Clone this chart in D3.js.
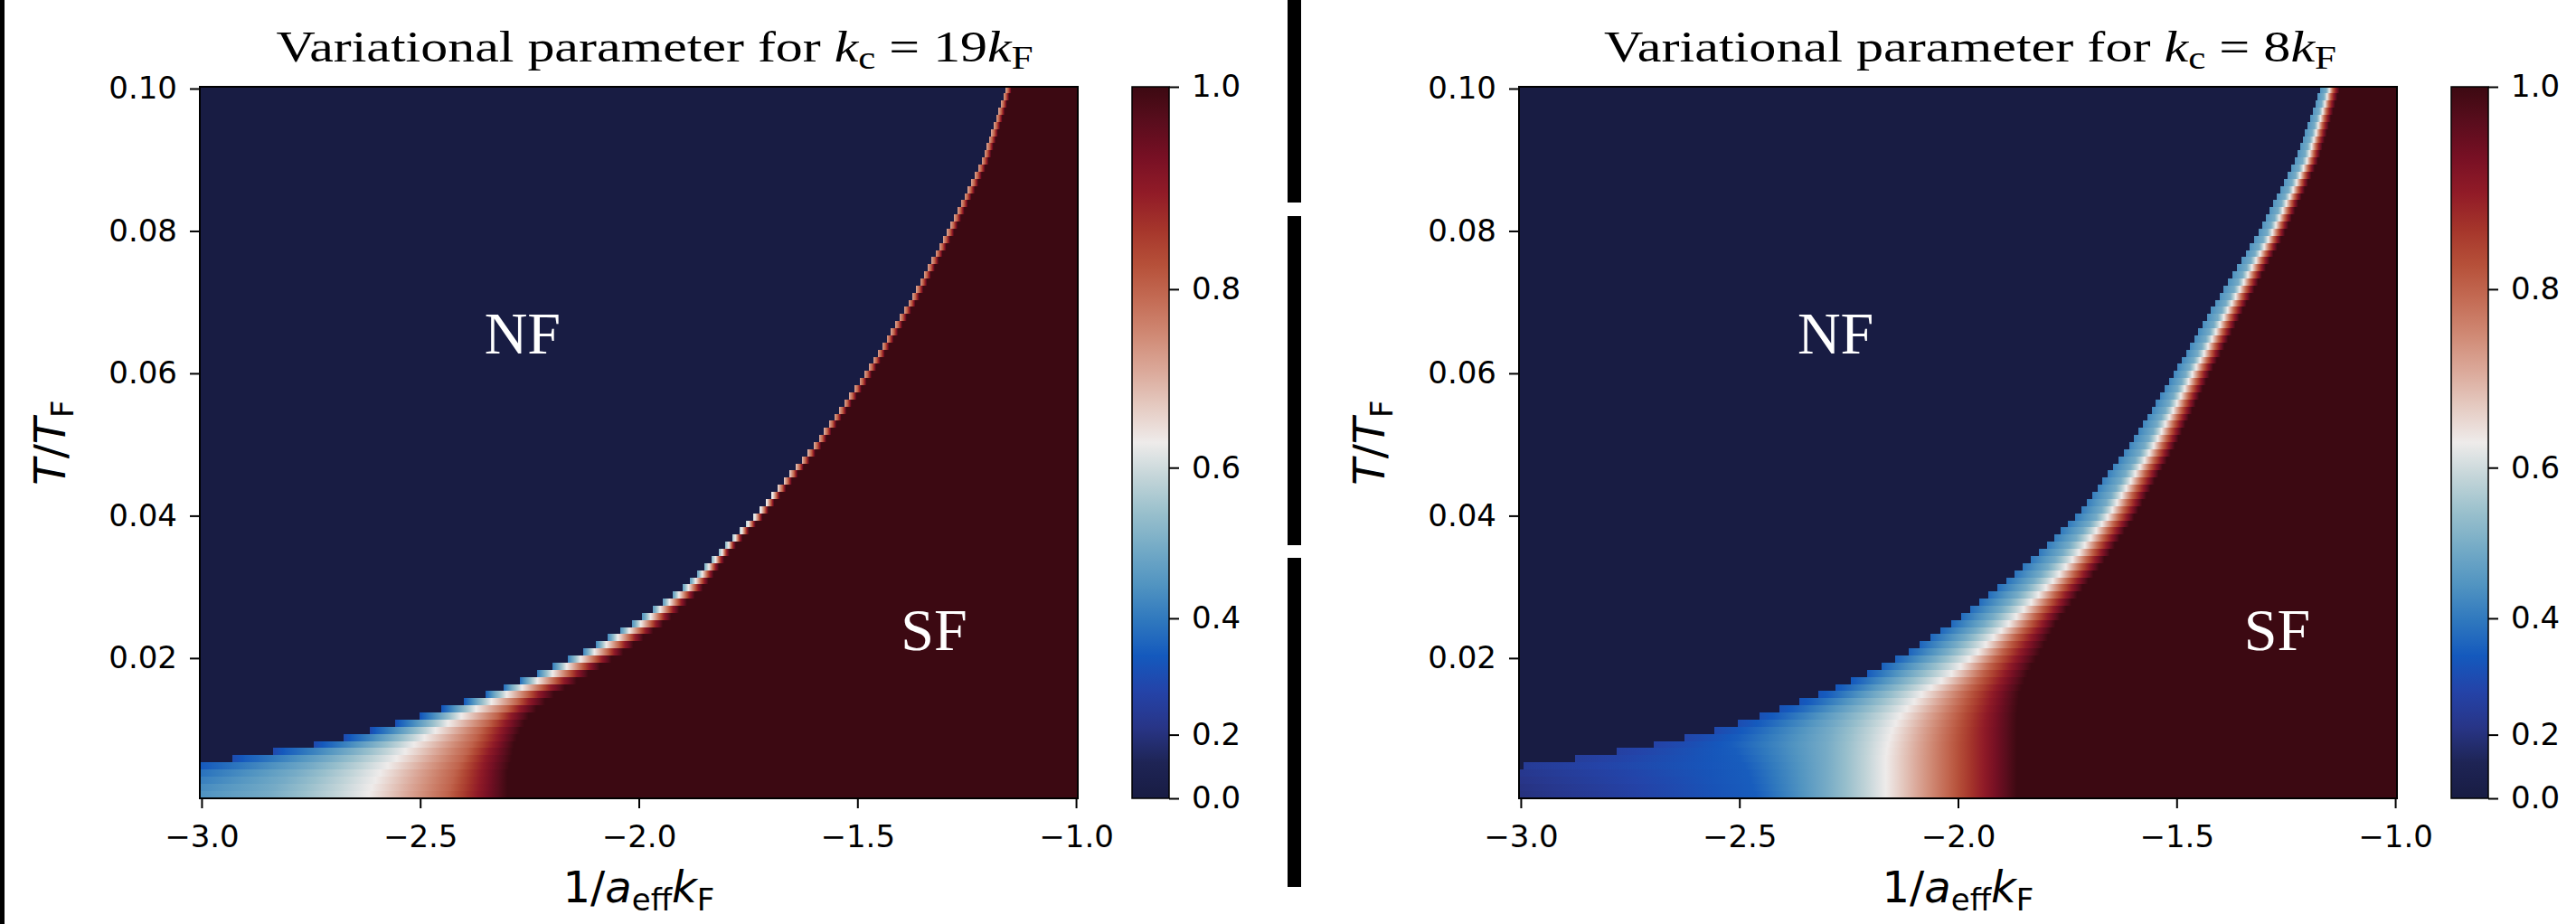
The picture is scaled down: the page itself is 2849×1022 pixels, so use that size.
<!DOCTYPE html>
<html>
<head>
<meta charset="utf-8">
<script src="https://cdn.jsdelivr.net/npm/d3@7"></script>
<style>
  body { margin: 0; background: #fff; }
  svg { display: block; }
  .tick text { font-family: "DejaVu Sans", sans-serif; font-size: 34px; fill: #000; }
  .tick line { stroke: #000; stroke-width: 2px; }
</style>
</head>
<body>
<svg id="chart" width="2849" height="1022"></svg>
<script>
// values: T/T_F knots, and for each knot the x position
// (1/a_eff k_F) where the parameter reaches a given level
const tKnots = [0.0003, 0.002, 0.004, 0.005, 0.006, 0.008, 0.010, 0.012, 0.015, 0.018, 0.021,
                0.025, 0.030, 0.035, 0.040, 0.050, 0.060, 0.070, 0.080, 0.090, 0.1003];
const levels = [0.35, 0.5, 0.63, 0.8, 0.9, 1.0];

// k_c = 19 k_F
const edgeX19 = [-3.004, -3.004, -3.004, -3.004, -2.91, -2.724, -2.602, -2.491, -2.34, -2.225, -2.12,
                 -2.01, -1.895, -1.814, -1.735, -1.597, -1.481, -1.381, -1.293, -1.214, -1.158];
const edgeV19 = [0.45, 0.43, 0.38, 0.33, 0.30, 0.30, 0.30, 0.32, 0.36, 0.40, 0.42,
                 0.45, 0.48, 0.52, 0.60, 0.70, 0.72, 0.72, 0.72, 0.72, 0.72];
const lev35_19 = [-3.2, -3.2, -3.2, -2.98, -2.88, -2.70, -2.59, -2.485, -2.34, -2.225, -2.12,
                  -2.01, -1.895, -1.814, -1.735, -1.597, -1.481, -1.381, -1.293, -1.214, -1.158];
const lev50_19 = [-2.85, -2.83, -2.78, -2.74, -2.70, -2.60, -2.52, -2.44, -2.32, -2.21, -2.11,
                  -2.003, -1.892, -1.814, -1.735, -1.597, -1.481, -1.381, -1.293, -1.214, -1.158];
const lev63_19 = [-2.62, -2.61, -2.59, -2.57, -2.55, -2.51, -2.46, -2.40, -2.295, -2.19, -2.095,
                  -1.99, -1.882, -1.806, -1.731, -1.597, -1.481, -1.381, -1.293, -1.214, -1.158];
const lev80_19 = [-2.44, -2.43, -2.42, -2.41, -2.40, -2.38, -2.36, -2.32, -2.25, -2.155, -2.065,
                  -1.968, -1.868, -1.800, -1.722, -1.589, -1.474, -1.374, -1.286, -1.207, -1.152];
const lev90_19 = [-2.37, -2.365, -2.36, -2.355, -2.35, -2.33, -2.315, -2.29, -2.225, -2.135, -2.05,
                  -1.956, -1.86, -1.796, -1.718, -1.584, -1.469, -1.369, -1.281, -1.202, -1.148];
const lev100_19 = [-2.30, -2.30, -2.30, -2.295, -2.29, -2.285, -2.27, -2.25, -2.19, -2.11, -2.03,
                   -1.94, -1.85, -1.790, -1.714, -1.580, -1.465, -1.365, -1.277, -1.198, -1.145];

// k_c = 8 k_F
const edgeX8 = [-3.004, -3.004, -3.004, -2.99, -2.847, -2.678, -2.544, -2.444, -2.31, -2.20, -2.107,
                -2.01, -1.905, -1.81, -1.728, -1.605, -1.505, -1.41, -1.31, -1.228, -1.168];
const edgeV8 = [0.20, 0.21, 0.23, 0.25, 0.26, 0.28, 0.30, 0.32, 0.33, 0.35, 0.36,
                0.37, 0.38, 0.40, 0.40, 0.42, 0.42, 0.44, 0.45, 0.45, 0.45];
const lev35_8 = [-2.46, -2.47, -2.48, -2.49, -2.50, -2.52, -2.48, -2.41, -2.29, -2.20, -2.107,
                 -2.01, -1.905, -1.81, -1.728, -1.605, -1.505, -1.41, -1.31, -1.228, -1.168];
const lev50_8 = [-2.30, -2.30, -2.30, -2.30, -2.30, -2.30, -2.29, -2.26, -2.18, -2.10, -2.02,
                 -1.935, -1.84, -1.757, -1.68, -1.57, -1.477, -1.385, -1.29, -1.21, -1.155];
const lev63_8 = [-2.165, -2.165, -2.165, -2.165, -2.165, -2.16, -2.15, -2.13, -2.08, -2.01, -1.95,
                 -1.88, -1.795, -1.72, -1.655, -1.55, -1.462, -1.372, -1.279, -1.20, -1.148];
const lev80_8 = [-2.02, -2.02, -2.02, -2.02, -2.02, -2.02, -2.015, -2.005, -1.98, -1.94, -1.895,
                 -1.835, -1.76, -1.69, -1.63, -1.53, -1.446, -1.358, -1.267, -1.19, -1.14];
const lev90_8 = [-1.94, -1.94, -1.94, -1.94, -1.94, -1.94, -1.94, -1.935, -1.92, -1.89, -1.855,
                 -1.805, -1.737, -1.67, -1.612, -1.516, -1.435, -1.348, -1.259, -1.183, -1.133];
const lev100_8 = [-1.865, -1.865, -1.865, -1.865, -1.865, -1.865, -1.865, -1.865, -1.86, -1.84, -1.81,
                  -1.775, -1.712, -1.65, -1.595, -1.502, -1.423, -1.338, -1.25, -1.175, -1.125];

const xTicks = [-3.0, -2.5, -2.0, -1.5, -1.0];
const yTicks = [0.02, 0.04, 0.06, 0.08, 0.10];
const cbTicks = [0.0, 0.2, 0.4, 0.6, 0.8, 1.0];
const kcValues = ["19", "8"];

// balance-like diverging map, sampled every 0.05
const balanceColors = ["#181c43", "#1e2455", "#283587", "#2443a8", "#1459bd", "#2f78be", "#5194c1",
  "#73aac6", "#98bfcc", "#c2d4d8", "#eeebea", "#e5cbc2", "#dba99a", "#d08a75", "#c46c55",
  "#b65039", "#a5352b", "#911b27", "#781024", "#5a0d1d", "#3c0912"];
const balance = d3.scaleLinear()
  .domain(balanceColors.map((c, i) => i / (balanceColors.length - 1)))
  .range(balanceColors);
const gamma = 1.5;
const cmap = v => balance(Math.pow(Math.max(0, Math.min(1, v)), gamma));

const svg = d3.select("#chart");
const defs = svg.append("defs");

// composite-figure bars
svg.append("rect").attr("x", 0).attr("y", 0).attr("width", 5).attr("height", 1022).attr("fill", "#000");
[[0, 224], [239, 603], [617, 981]].forEach(s => {
  svg.append("rect").attr("x", 1424).attr("y", s[0]).attr("width", 15).attr("height", s[1] - s[0]).attr("fill", "#000");
});

const plotTop = 96, plotBottom = 883, plotW = 971;

const panels = [
  { left: 221, kc: kcValues[0], titleX: 724, titleW: 837, nf: [-2.266, 0.0657], sf: [-1.325, 0.024],
    edgeX: edgeX19, edgeV: edgeV19, lev: [lev35_19, lev50_19, lev63_19, lev80_19, lev90_19, lev100_19] },
  { left: 1680, kc: kcValues[1], titleX: 2179, titleW: 810, nf: [-2.28, 0.0657], sf: [-1.27, 0.024],
    edgeX: edgeX8, edgeV: edgeV8, lev: [lev35_8, lev50_8, lev63_8, lev80_8, lev90_8, lev100_8] }
];

panels.forEach((p, pi) => {
  const x = d3.scaleLinear().domain([-3.004, -0.996]).range([p.left, p.left + plotW]);
  const y = d3.scaleLinear().domain([0.0003, 0.10025]).range([plotBottom, plotTop]);
  const along = arr => d3.scaleLinear().domain(tKnots).range(arr).clamp(true);
  const eX = along(p.edgeX), eV = along(p.edgeV);
  const lv = p.lev.map(along);

  const clipId = "clip" + pi;
  defs.append("clipPath").attr("id", clipId).append("rect")
    .attr("x", p.left).attr("y", plotTop).attr("width", plotW).attr("height", plotBottom - plotTop);

  const heat = svg.append("g").attr("clip-path", `url(#${clipId})`);
  const nRows = 100, rowH = (plotBottom - plotTop) / nRows;
  const gx1 = x(-3.3), gx2 = x(-0.9);
  const off = v => (x(v) - gx1) / (gx2 - gx1);

  for (let i = 0; i < nRows; i++) {
    const y0 = plotTop + i * rowH, y1 = y0 + rowH;
    const t = y.invert((y0 + y1) / 2);
    const e = eX(t), ev = eV(t);
    const stops = [[-3.3, 0], [e, 0], [e, ev]];
    let last = [e, ev];
    levels.forEach((L, k) => {
      const lx = lv[k](t);
      if (lx > last[0] && L > last[1]) {
        for (let j = 1; j < 6; j++) {
          const f = j / 6;
          stops.push([last[0] + f * (lx - last[0]), last[1] + f * (L - last[1])]);
        }
        stops.push([lx, L]);
        last = [lx, L];
      }
    });
    stops.push([-0.9, last[1]]);

    const gid = `row${pi}_${i}`;
    const grad = defs.append("linearGradient").attr("id", gid)
      .attr("gradientUnits", "userSpaceOnUse")
      .attr("x1", gx1).attr("x2", gx2).attr("y1", 0).attr("y2", 0);
    stops.forEach(s => grad.append("stop")
      .attr("offset", Math.max(0, Math.min(1, off(s[0]))))
      .attr("stop-color", cmap(s[1])));
    heat.append("rect")
      .attr("x", p.left).attr("width", plotW)
      .attr("y", Math.floor(y0)).attr("height", Math.ceil(y1) - Math.floor(y0) + 0.5)
      .attr("fill", `url(#${gid})`);
  }

  // frame
  svg.append("rect").attr("x", p.left).attr("y", plotTop).attr("width", plotW).attr("height", plotBottom - plotTop)
    .attr("fill", "none").attr("stroke", "#000").attr("stroke-width", 2);

  // axes
  const ax = svg.append("g").attr("transform", `translate(0,${plotBottom})`)
    .call(d3.axisBottom(x).tickValues(xTicks).tickFormat(d3.format(".1f")).tickSize(11).tickPadding(19));
  ax.select(".domain").remove();
  const ay = svg.append("g").attr("transform", `translate(${p.left},0)`)
    .call(d3.axisLeft(y).tickValues(yTicks).tickFormat(d3.format(".2f")).tickSize(11).tickPadding(14));
  ay.select(".domain").remove();

  // axis labels
  const yl = svg.append("text")
    .attr("transform", `translate(${p.left - 149},${(plotTop + plotBottom) / 2}) rotate(-90)`)
    .attr("text-anchor", "middle")
    .style("font-family", "DejaVu Sans, sans-serif").style("font-size", "48px");
  yl.append("tspan").style("font-style", "italic").text("T");
  yl.append("tspan").text("/");
  yl.append("tspan").style("font-style", "italic").text("T");
  yl.append("tspan").attr("dy", 9).style("font-size", "34px").text("F");

  const xl = svg.append("text")
    .attr("x", p.left + plotW / 2).attr("y", 998)
    .attr("text-anchor", "middle")
    .style("font-family", "DejaVu Sans, sans-serif").style("font-size", "48px");
  xl.append("tspan").text("1/");
  xl.append("tspan").style("font-style", "italic").text("a");
  xl.append("tspan").attr("dy", 9).style("font-size", "34px").text("eff");
  xl.append("tspan").attr("dy", -9).style("font-style", "italic").text("k");
  xl.append("tspan").attr("dy", 9).style("font-size", "34px").text("F");

  // title
  const tt = svg.append("text")
    .attr("x", p.titleX).attr("y", 68)
    .attr("text-anchor", "middle")
    .attr("textLength", p.titleW).attr("lengthAdjust", "spacingAndGlyphs")
    .style("font-family", "Liberation Serif, serif").style("font-size", "49px");
  tt.append("tspan").text("Variational parameter for ");
  tt.append("tspan").style("font-style", "italic").text("k");
  tt.append("tspan").attr("dy", 8).style("font-size", "35px").text("c");
  tt.append("tspan").attr("dy", -8).text(" = " + p.kc);
  tt.append("tspan").style("font-style", "italic").text("k");
  tt.append("tspan").attr("dy", 8).style("font-size", "35px").text("F");

  // region labels
  [["NF", p.nf], ["SF", p.sf]].forEach(([lab, pos]) => {
    svg.append("text").attr("x", x(pos[0])).attr("y", y(pos[1]))
      .attr("text-anchor", "middle").attr("dominant-baseline", "central")
      .style("font-family", "Liberation Serif, serif").style("font-size", "66px")
      .attr("fill", "#fff").text(lab);
  });

  // colorbar
  const cbL = p.left + plotW + 60, cbW = 41;
  const cgid = "cb" + pi;
  const cg = defs.append("linearGradient").attr("id", cgid)
    .attr("x1", 0).attr("x2", 0).attr("y1", 1).attr("y2", 0);
  d3.range(0, 1.0001, 0.025).forEach(n => cg.append("stop").attr("offset", n).attr("stop-color", balance(n)));
  svg.append("rect").attr("x", cbL).attr("y", plotTop).attr("width", cbW).attr("height", plotBottom - plotTop)
    .attr("fill", `url(#${cgid})`).attr("stroke", "#000").attr("stroke-width", 1.5);
  const cs = d3.scalePow().exponent(gamma).domain([0, 1]).range([plotBottom, plotTop]);
  const ac = svg.append("g").attr("transform", `translate(${cbL + cbW},0)`)
    .call(d3.axisRight(cs).tickValues(cbTicks).tickFormat(d3.format(".1f")).tickSize(11).tickPadding(14));
  ac.select(".domain").remove();
});
</script>
</body>
</html>
